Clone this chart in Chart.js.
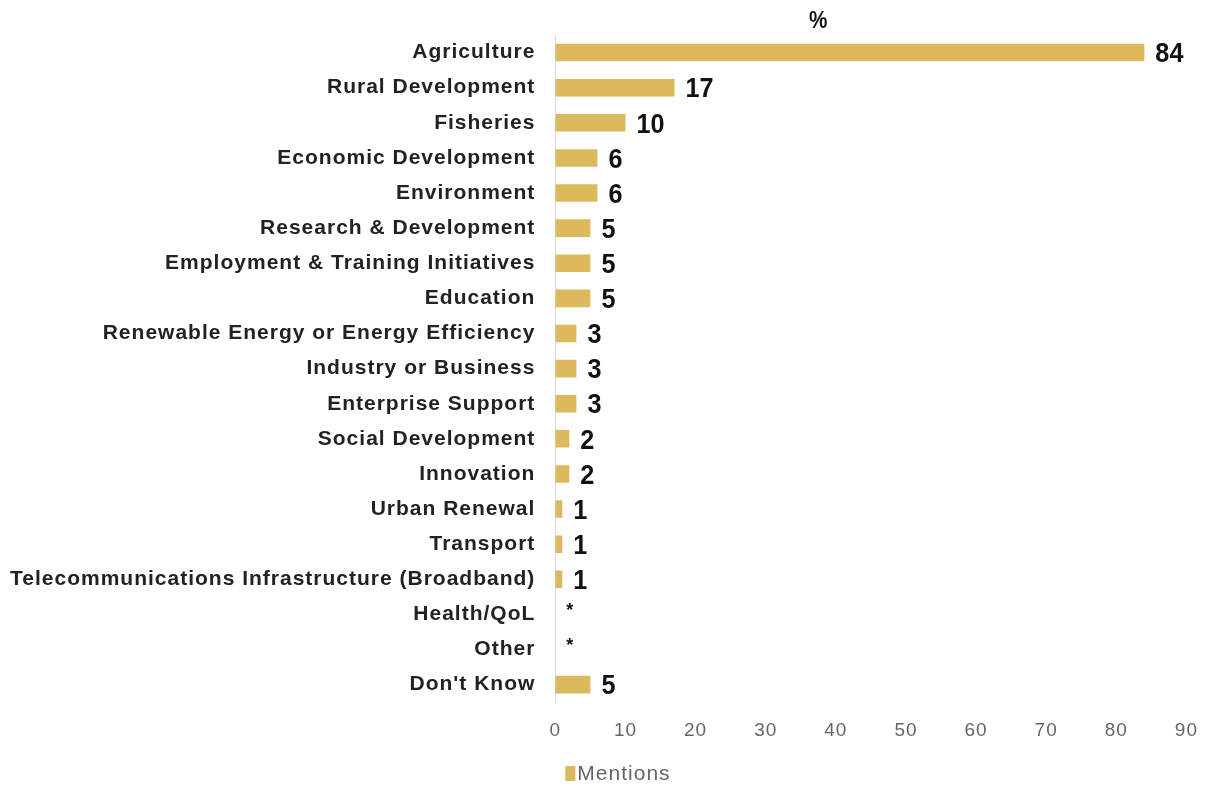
<!DOCTYPE html>
<html>
<head>
<meta charset="utf-8">
<script src="https://cdn.jsdelivr.net/npm/chart.js@4"></script>
<style>
  html, body { margin: 0; padding: 0; background: #fff; }
  #wrap { width: 1215px; height: 786px; position: relative; }
</style>
</head>
<body>
<div id="wrap"><canvas id="areasChart"></canvas></div>
<script>
const categories = [
    'Agriculture', 'Rural Development', 'Fisheries', 'Economic Development', 'Environment',
    'Research & Development', 'Employment & Training Initiatives', 'Education',
    'Renewable Energy or Energy Efficiency', 'Industry or Business', 'Enterprise Support',
    'Social Development', 'Innovation', 'Urban Renewal', 'Transport',
    'Telecommunications Infrastructure (Broadband)', 'Health/QoL', 'Other', "Don't Know"
];
const mentions = [84, 17, 10, 6, 6, 5, 5, 5, 3, 3, 3, 2, 2, 1, 1, 1, 0, 0, 5];
// values under 0.5% are shown as an asterisk
const valueLabels = ['84', '17', '10', '6', '6', '5', '5', '5', '3', '3', '3', '2', '2', '1', '1', '1', '*', '*', '5'];
const xTicks = [0, 10, 20, 30, 40, 50, 60, 70, 80, 90];

const gold = '#dcb95c';
const sans = '"Liberation Sans", Arial, sans-serif';

// slightly wider tracking for the axis text (canvas state is reset on resize)
const tracking = {
    id: 'tracking',
    beforeUpdate(chart) { chart.ctx.letterSpacing = '1px'; },
    beforeDraw(chart) { chart.ctx.letterSpacing = '1px'; }
};

// squeezed text to imitate a narrow bold face
function narrowText(ctx, txt, x, y, squeeze) {
    ctx.save();
    ctx.translate(x, y);
    ctx.scale(squeeze, 1);
    ctx.fillText(txt, 0, 0);
    ctx.restore();
}

// value labels, the "%" heading and a legend tucked under the value axis
const barLabels = {
    id: 'barLabels',
    afterDatasetsDraw(chart) {
        const ctx = chart.ctx;
        const meta = chart.getDatasetMeta(0);
        const area = chart.chartArea;
        ctx.save();
        ctx.letterSpacing = '0px';
        ctx.fillStyle = '#111';
        ctx.textBaseline = 'middle';
        ctx.textAlign = 'left';
        meta.data.forEach((bar, i) => {
            const txt = valueLabels[i];
            if (txt === '*') {
                ctx.font = 'bold 18px ' + sans;
                ctx.fillText(txt, bar.x + 11, bar.y - 3);
            } else {
                ctx.font = 'bold 28px ' + sans;
                narrowText(ctx, txt, bar.x + 11, bar.y + 2, 0.9);
            }
        });
        const xs = chart.scales.x;
        ctx.font = 'bold 23px ' + sans;
        ctx.textAlign = 'center';
        narrowText(ctx, '%', xs.getPixelForValue(37.5), area.top - 13, 0.9);

        // legend
        const ds = chart.data.datasets[0];
        const lx = area.left + 10;
        const ly = chart.height - 13;
        ctx.fillStyle = ds.backgroundColor;
        ctx.fillRect(lx, ly - 7, 10, 15);
        ctx.fillStyle = '#666';
        ctx.textAlign = 'left';
        ctx.letterSpacing = '1px';
        ctx.font = '21px ' + sans;
        ctx.fillText(ds.label, lx + 12, ly + 1);
        ctx.restore();
    }
};

new Chart(document.getElementById('areasChart'), {
    type: 'bar',
    data: {
        labels: categories,
        datasets: [{
            label: 'Mentions',
            data: mentions,
            backgroundColor: gold,
            borderWidth: 0,
            barPercentage: 0.5,
            categoryPercentage: 1
        }]
    },
    options: {
        indexAxis: 'y',
        responsive: true,
        maintainAspectRatio: false,
        animation: false,
        layout: { padding: { top: 35, right: 16, left: -10, bottom: 27 } },
        scales: {
            x: {
                min: 0, max: 90,
                afterBuildTicks: axis => { axis.ticks = xTicks.map(v => ({ value: v })); },
                grid: { display: false, drawTicks: false },
                border: { display: false },
                ticks: {
                    color: '#666',
                    padding: 17,
                    maxRotation: 0,
                    font: { size: 19, family: sans }
                }
            },
            y: {
                grid: { display: false, drawTicks: false },
                border: { display: true, color: '#d9d9d9', width: 1 },
                ticks: {
                    color: '#222',
                    padding: 20,
                    font: { size: 21, weight: 'bold', family: sans }
                }
            }
        },
        plugins: {
            legend: { display: false },
            tooltip: { enabled: false }
        }
    },
    plugins: [tracking, barLabels]
});
</script>
</body>
</html>
